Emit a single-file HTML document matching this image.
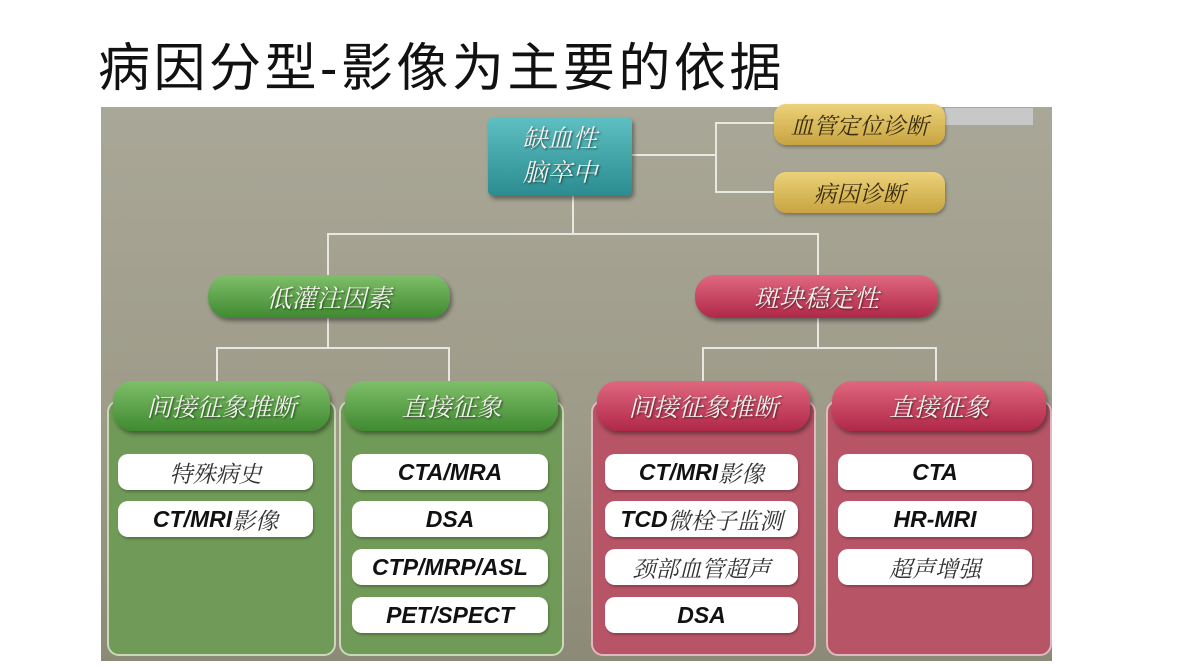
<!DOCTYPE html>
<html><head><meta charset="utf-8"><style>
*{margin:0;padding:0;box-sizing:border-box}
body{width:1191px;height:670px;background:#fff;position:relative;overflow:hidden;font-family:"Liberation Sans","Noto Sans CJK SC",sans-serif}
.title{position:absolute;left:98px;top:26px;font-size:52px;letter-spacing:3.5px;color:#111;font-family:"Liberation Sans","Noto Sans CJK SC",sans-serif;white-space:nowrap}
.bg{position:absolute;left:101px;top:107px;width:951px;height:554px;background:linear-gradient(180deg,#a9a797 0%,#9d9a88 60%,#8c8977 100%)}
.a{position:absolute}
.ln{position:absolute;background:#e8e8e0}
.box{position:absolute;display:flex;align-items:center;justify-content:center;text-align:center;color:#f4f4ee;font-style:italic;font-family:"Liberation Serif","Noto Serif CJK SC",serif;text-shadow:1px 1px 2px rgba(0,0,0,.6)}
.teal{background:linear-gradient(180deg,#5fc0c3,#2a8c90);border-radius:6px;box-shadow:2px 3px 4px rgba(0,0,0,.4);font-size:25px;line-height:34px}
.gold{background:linear-gradient(180deg,#ecd27a,#c8a440);border-radius:12px;color:#3a2c10;text-shadow:none;font-size:23px;box-shadow:1px 2px 3px rgba(0,0,0,.3)}
.gp{background:linear-gradient(180deg,#7fbf6a,#3f8a30);border-radius:20px;font-size:25px;box-shadow:2px 3px 4px rgba(0,0,0,.4)}
.rp{background:linear-gradient(180deg,#e06880,#b02848);border-radius:20px;font-size:25px;box-shadow:2px 3px 4px rgba(0,0,0,.4)}
.pg{position:absolute;background:#6f9a57;border:2px solid #c9d9b8;border-radius:12px}
.pr{position:absolute;background:#b75566;border:2px solid #e2b8c0;border-radius:12px}
.it{position:absolute;background:#fff;border-radius:10px;display:flex;align-items:center;justify-content:center;font-size:23px;color:#111;box-shadow:1px 2px 2px rgba(0,0,0,.25)}
.b{font-weight:bold;font-style:italic;font-family:"Liberation Sans",sans-serif}
.c{font-style:italic;font-family:"Liberation Serif","Noto Serif CJK SC",serif;color:#333}
</style></head><body>
<div class="title">病因分型-影像为主要的依据</div>
<div class="bg"></div>
<div class="a" style="left:945px;top:108px;width:88px;height:17px;background:#c8c8c8"></div>
<div class="ln" style="left:632px;top:154px;width:84px;height:2px"></div>
<div class="ln" style="left:715px;top:122px;width:2px;height:71px"></div>
<div class="ln" style="left:715px;top:122px;width:60px;height:2px"></div>
<div class="ln" style="left:715px;top:191px;width:60px;height:2px"></div>
<div class="ln" style="left:572px;top:196px;width:2px;height:39px"></div>
<div class="ln" style="left:327px;top:233px;width:491px;height:2px"></div>
<div class="ln" style="left:327px;top:233px;width:2px;height:43px"></div>
<div class="ln" style="left:817px;top:233px;width:2px;height:43px"></div>
<div class="ln" style="left:327px;top:318px;width:2px;height:31px"></div>
<div class="ln" style="left:216px;top:347px;width:234px;height:2px"></div>
<div class="ln" style="left:216px;top:347px;width:2px;height:35px"></div>
<div class="ln" style="left:448px;top:347px;width:2px;height:35px"></div>
<div class="ln" style="left:817px;top:318px;width:2px;height:31px"></div>
<div class="ln" style="left:702px;top:347px;width:234px;height:2px"></div>
<div class="ln" style="left:702px;top:347px;width:2px;height:35px"></div>
<div class="ln" style="left:935px;top:347px;width:2px;height:35px"></div>
<div class="box teal" style="left:488px;top:117px;width:144px;height:79px">缺血性<br>脑卒中</div>
<div class="box gold" style="left:774px;top:104px;width:171px;height:41px">血管定位诊断</div>
<div class="box gold" style="left:774px;top:172px;width:171px;height:41px">病因诊断</div>
<div class="box gp" style="left:208px;top:275px;width:242px;height:43px">低灌注因素</div>
<div class="box rp" style="left:695px;top:275px;width:243px;height:43px">斑块稳定性</div>
<div class="pg" style="left:107px;top:400px;width:229px;height:256px"></div>
<div class="pg" style="left:339px;top:400px;width:225px;height:256px"></div>
<div class="pr" style="left:591px;top:400px;width:225px;height:256px"></div>
<div class="pr" style="left:826px;top:400px;width:226px;height:256px"></div>
<div class="box gp" style="left:113px;top:381px;width:217px;height:50px">间接征象推断</div>
<div class="box gp" style="left:345px;top:381px;width:213px;height:50px">直接征象</div>
<div class="box rp" style="left:597px;top:381px;width:213px;height:50px">间接征象推断</div>
<div class="box rp" style="left:832px;top:381px;width:214px;height:50px">直接征象</div>
<div class="it c" style="left:118px;top:454px;width:195px;height:36px">特殊病史</div>
<div class="it b" style="left:118px;top:501px;width:195px;height:36px">CT/MRI<span class="c" style="font-weight:normal">影像</span></div>
<div class="it b" style="left:352px;top:454px;width:196px;height:36px">CTA/MRA</div>
<div class="it b" style="left:352px;top:501px;width:196px;height:36px">DSA</div>
<div class="it b" style="left:352px;top:549px;width:196px;height:36px">CTP/MRP/ASL</div>
<div class="it b" style="left:352px;top:597px;width:196px;height:36px">PET/SPECT</div>
<div class="it b" style="left:605px;top:454px;width:193px;height:36px">CT/MRI<span class="c" style="font-weight:normal">影像</span></div>
<div class="it b" style="left:605px;top:501px;width:193px;height:36px">TCD<span class="c" style="font-weight:normal">微栓子监测</span></div>
<div class="it c" style="left:605px;top:549px;width:193px;height:36px">颈部血管超声</div>
<div class="it b" style="left:605px;top:597px;width:193px;height:36px">DSA</div>
<div class="it b" style="left:838px;top:454px;width:194px;height:36px">CTA</div>
<div class="it b" style="left:838px;top:501px;width:194px;height:36px">HR-MRI</div>
<div class="it c" style="left:838px;top:549px;width:194px;height:36px">超声增强</div>
</body></html>
